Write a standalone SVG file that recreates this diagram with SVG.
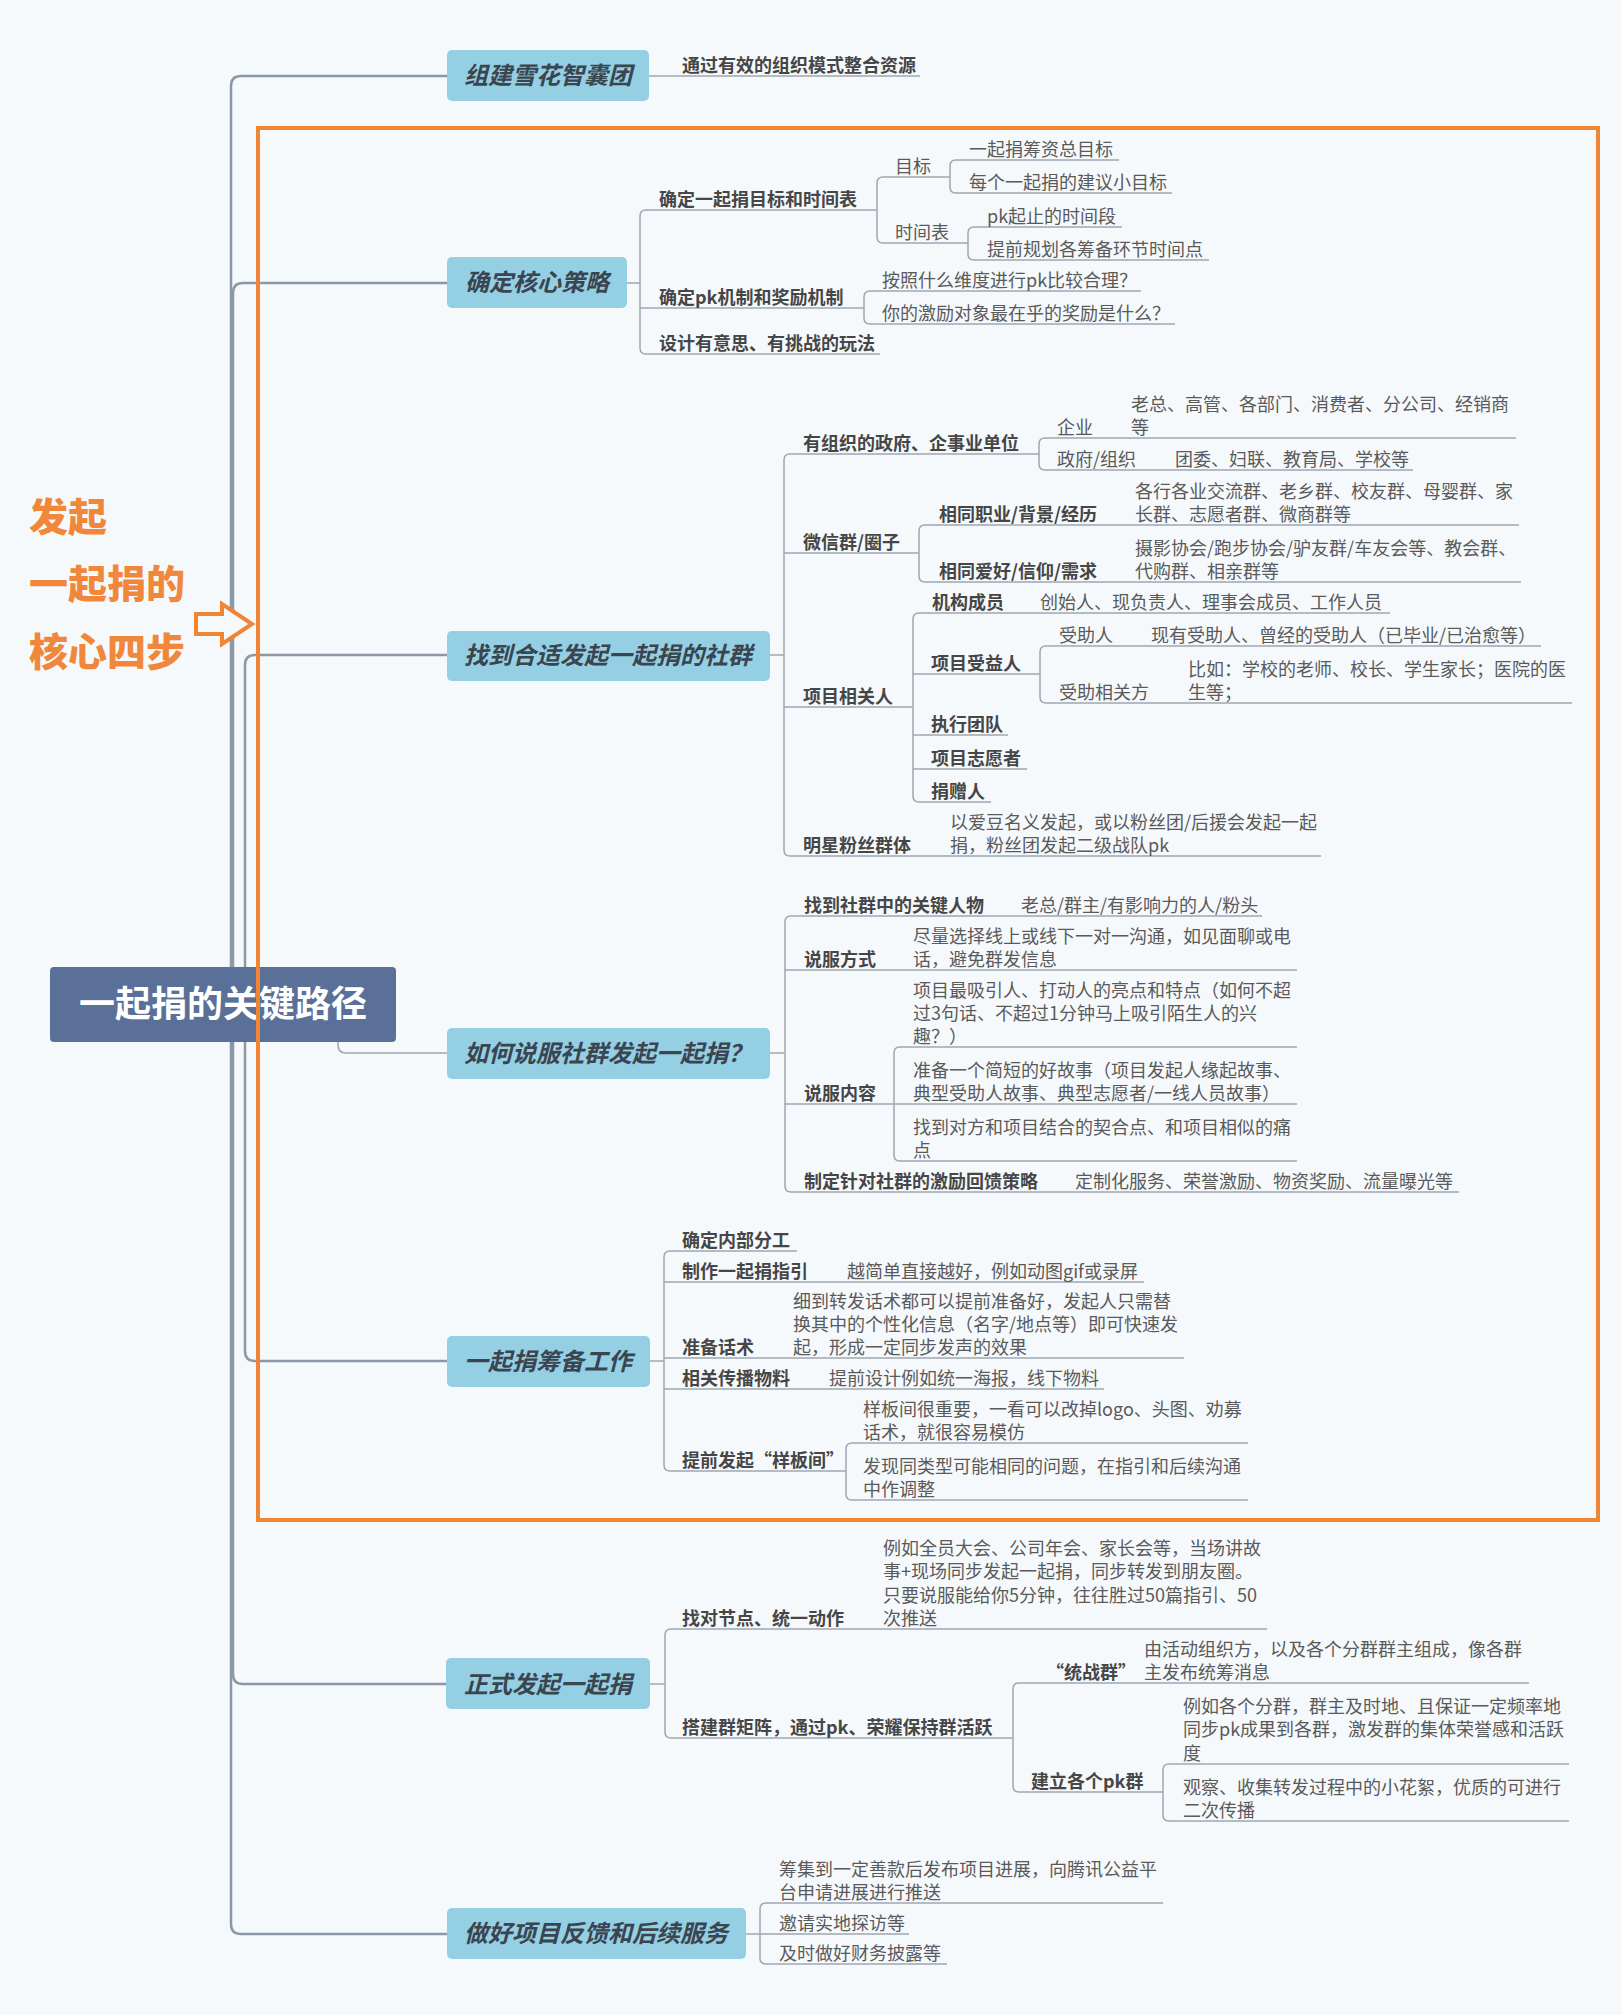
<svg xmlns="http://www.w3.org/2000/svg" width="1622" height="2015" viewBox="0 0 1622 2015">
<style>
.c{fill:none;stroke:#9ea7b1;stroke-width:1.5}
.t{fill:none;stroke:#8d98a7;stroke-width:2.5}
.b{font-family:"Noto Sans CJK SC","Noto Sans",sans-serif;font-size:18px;font-weight:bold;fill:#464646}
.n{font-family:"Noto Sans CJK SC","Noto Sans",sans-serif;font-size:18px;fill:#5a5a5a}
.h{font-family:"Noto Sans CJK SC","Noto Sans",sans-serif;font-size:24px;font-weight:bold;font-style:italic;fill:#3a4550;text-anchor:middle}
.nd{fill:#94cfe4}
.o{font-family:"Noto Sans CJK SC","Noto Sans",sans-serif;font-size:39px;font-weight:900;fill:#f0873a}
</style>
<rect x="0" y="0" width="1622" height="2015" fill="#f5f9fc"/>

<g id="connectors">
<!-- trunk -->
<path class="t" d="M231,1004 V86 Q231,76 241,76 H447"/>
<path class="t" d="M233,1004 V293 Q233,283 243,283 H447"/>
<path class="t" d="M245,1004 V665 Q245,655 255,655 H447"/>
<path class="c" d="M338,1035 V1045 Q338,1053 346,1053 H447"/>
<path class="t" d="M245,1004 V1351 Q245,1361 255,1361 H447"/>
<path class="t" d="M233,1004 V1674 Q233,1684 243,1684 H446"/>
<path class="t" d="M231,1004 V1924 Q231,1934 241,1934 H447"/>

<!-- 组建雪花智囊团 -->
<path class="c" d="M649,76 H920"/>

<!-- 确定核心策略 -->
<path class="c" d="M627,283 H640"/>
<path class="c" d="M877,210 H646 Q640,210 640,216 V348 Q640,354 646,354 H880"/>
<path class="c" d="M640,308 H864"/>
<path class="c" d="M950,177 H883 Q877,177 877,183 V237 Q877,243 883,243 H968"/>
<path class="c" d="M1119,160 H956 Q950,160 950,166 V187 Q950,193 956,193 H1172"/>
<path class="c" d="M1122,227 H974 Q968,227 968,233 V254 Q968,260 974,260 H1209"/>
<path class="c" d="M1141,291 H870 Q864,291 864,297 V318 Q864,324 870,324 H1175"/>

<!-- 找到合适发起一起捐的社群 -->
<path class="c" d="M770,655 H784"/>
<path class="c" d="M1039,454 H790 Q784,454 784,460 V850 Q784,856 790,856 H1321"/>
<path class="c" d="M784,553 H919"/>
<path class="c" d="M784,707 H913"/>
<path class="c" d="M1516,438 H1045 Q1039,438 1039,444 V464 Q1039,470 1045,470 H1413"/>
<path class="c" d="M1519,525 H925 Q919,525 919,531 V576 Q919,582 925,582 H1521"/>
<path class="c" d="M1390,613 H919 Q913,613 913,619 V796 Q913,802 919,802 H991"/>
<path class="c" d="M913,674 H1040"/>
<path class="c" d="M913,735 H1008"/>
<path class="c" d="M913,769 H1027"/>
<path class="c" d="M1541,646 H1046 Q1040,646 1040,652 V697 Q1040,703 1046,703 H1572"/>

<!-- 如何说服 -->
<path class="c" d="M770,1053 H785"/>
<path class="c" d="M1262,916 H791 Q785,916 785,922 V1186 Q785,1192 791,1192 H1459"/>
<path class="c" d="M785,970 H1297"/>
<path class="c" d="M785,1104 H1297"/>
<path class="c" d="M1297,1047 H900 Q894,1047 894,1053 V1155 Q894,1161 900,1161 H1297"/>

<!-- 一起捐筹备工作 -->
<path class="c" d="M650,1361 H664"/>
<path class="c" d="M797,1251 H670 Q664,1251 664,1257 V1465 Q664,1471 670,1471 H846"/>
<path class="c" d="M664,1282 H1144"/>
<path class="c" d="M664,1358 H1184"/>
<path class="c" d="M664,1389 H1104"/>
<path class="c" d="M1248,1443 H852 Q846,1443 846,1449 V1494 Q846,1500 852,1500 H1248"/>

<!-- 正式发起一起捐 -->
<path class="c" d="M650,1684 H665"/>
<path class="c" d="M1267,1629 H671 Q665,1629 665,1635 V1732 Q665,1738 671,1738 H1013"/>
<path class="c" d="M1529,1683 H1019 Q1013,1683 1013,1689 V1786 Q1013,1792 1019,1792 H1163"/>
<path class="c" d="M1569,1764 H1169 Q1163,1764 1163,1770 V1815 Q1163,1821 1169,1821 H1569"/>

<!-- 做好项目反馈和后续服务 -->
<path class="c" d="M746,1934 H760"/>
<path class="c" d="M1163,1903 H766 Q760,1903 760,1909 V1958 Q760,1964 766,1964 H947"/>
<path class="c" d="M760,1934 H909"/>
</g>

<g id="root">
<rect x="50" y="967" width="346" height="75" rx="4" fill="#5a7098"/>
<text x="223" y="1017" text-anchor="middle" font-family="Noto Sans CJK SC, sans-serif" font-size="36" font-weight="bold" fill="#ffffff">一起捐的关键路径</text>
</g>

<g id="n1">
<rect class="nd" x="447" y="50" width="202" height="51" rx="5"/>
<text class="h" x="548" y="84">组建雪花智囊团</text>
<text class="b" x="682" y="72">通过有效的组织模式整合资源</text>
</g>

<g id="n2">
<rect class="nd" x="447" y="257" width="180" height="51" rx="5"/>
<text class="h" x="537" y="291">确定核心策略</text>
<text class="b" x="659" y="206">确定一起捐目标和时间表</text>
<text class="b" x="659" y="304">确定pk机制和奖励机制</text>
<text class="b" x="659" y="350">设计有意思、有挑战的玩法</text>
<text class="n" x="895" y="173">目标</text>
<text class="n" x="895" y="239">时间表</text>
<text class="n" x="969" y="156">一起捐筹资总目标</text>
<text class="n" x="969" y="189">每个一起捐的建议小目标</text>
<text class="n" x="987" y="223">pk起止的时间段</text>
<text class="n" x="987" y="256">提前规划各筹备环节时间点</text>
<text class="n" x="882" y="287">按照什么维度进行pk比较合理？</text>
<text class="n" x="882" y="320">你的激励对象最在乎的奖励是什么？</text>
</g>

<g id="n3">
<rect class="nd" x="447" y="631" width="323" height="50" rx="5"/>
<text class="h" x="608" y="664">找到合适发起一起捐的社群</text>
<text class="b" x="803" y="450">有组织的政府、企事业单位</text>
<text class="n" x="1057" y="434">企业</text>
<text class="n" x="1131"><tspan x="1131" y="411">老总、高管、各部门、消费者、分公司、经销商</tspan><tspan x="1131" y="434">等</tspan></text>
<text class="n" x="1057" y="466">政府/组织</text>
<text class="n" x="1175" y="466">团委、妇联、教育局、学校等</text>
<text class="b" x="803" y="549">微信群/圈子</text>
<text class="b" x="939" y="521">相同职业/背景/经历</text>
<text class="n"><tspan x="1135" y="498">各行各业交流群、老乡群、校友群、母婴群、家</tspan><tspan x="1135" y="521">长群、志愿者群、微商群等</tspan></text>
<text class="b" x="939" y="578">相同爱好/信仰/需求</text>
<text class="n"><tspan x="1135" y="555">摄影协会/跑步协会/驴友群/车友会等、教会群、</tspan><tspan x="1135" y="578">代购群、相亲群等</tspan></text>
<text class="b" x="803" y="703">项目相关人</text>
<text class="b" x="932" y="609">机构成员</text>
<text class="n" x="1040" y="609">创始人、现负责人、理事会成员、工作人员</text>
<text class="b" x="931" y="670">项目受益人</text>
<text class="n" x="1059" y="642">受助人</text>
<text class="n" x="1151" y="642">现有受助人、曾经的受助人（已毕业/已治愈等）</text>
<text class="n" x="1059" y="699">受助相关方</text>
<text class="n"><tspan x="1188" y="676">比如：学校的老师、校长、学生家长；医院的医</tspan><tspan x="1188" y="699">生等；</tspan></text>
<text class="b" x="931" y="731">执行团队</text>
<text class="b" x="931" y="765">项目志愿者</text>
<text class="b" x="931" y="798">捐赠人</text>
<text class="b" x="803" y="852">明星粉丝群体</text>
<text class="n"><tspan x="950" y="829">以爱豆名义发起，或以粉丝团/后援会发起一起</tspan><tspan x="950" y="852">捐，粉丝团发起二级战队pk</tspan></text>
</g>

<g id="n4">
<rect class="nd" x="447" y="1028" width="323" height="51" rx="5"/>
<text class="h" x="608" y="1062">如何说服社群发起一起捐？</text>
<text class="b" x="804" y="912">找到社群中的关键人物</text>
<text class="n" x="1021" y="912">老总/群主/有影响力的人/粉头</text>
<text class="b" x="804" y="966">说服方式</text>
<text class="n"><tspan x="913" y="943">尽量选择线上或线下一对一沟通，如见面聊或电</tspan><tspan x="913" y="966">话，避免群发信息</tspan></text>
<text class="b" x="804" y="1100">说服内容</text>
<text class="n"><tspan x="913" y="997">项目最吸引人、打动人的亮点和特点（如何不超</tspan><tspan x="913" y="1020">过3句话、不超过1分钟马上吸引陌生人的兴</tspan><tspan x="913" y="1043">趣？）</tspan></text>
<text class="n"><tspan x="913" y="1077">准备一个简短的好故事（项目发起人缘起故事、</tspan><tspan x="913" y="1100">典型受助人故事、典型志愿者/一线人员故事）</tspan></text>
<text class="n"><tspan x="913" y="1134">找到对方和项目结合的契合点、和项目相似的痛</tspan><tspan x="913" y="1157">点</tspan></text>
<text class="b" x="804" y="1188">制定针对社群的激励回馈策略</text>
<text class="n" x="1075" y="1188">定制化服务、荣誉激励、物资奖励、流量曝光等</text>
</g>

<g id="n5">
<rect class="nd" x="447" y="1336" width="203" height="51" rx="5"/>
<text class="h" x="548" y="1370">一起捐筹备工作</text>
<text class="b" x="682" y="1247">确定内部分工</text>
<text class="b" x="682" y="1278">制作一起捐指引</text>
<text class="n" x="847" y="1278">越简单直接越好，例如动图gif或录屏</text>
<text class="b" x="682" y="1354">准备话术</text>
<text class="n"><tspan x="793" y="1308">细到转发话术都可以提前准备好，发起人只需替</tspan><tspan x="793" y="1331">换其中的个性化信息（名字/地点等）即可快速发</tspan><tspan x="793" y="1354">起，形成一定同步发声的效果</tspan></text>
<text class="b" x="682" y="1385">相关传播物料</text>
<text class="n" x="829" y="1385">提前设计例如统一海报，线下物料</text>
<text class="b" x="682" y="1467">提前发起“样板间”</text>
<text class="n"><tspan x="863" y="1416">样板间很重要，一看可以改掉logo、头图、劝募</tspan><tspan x="863" y="1439">话术，就很容易模仿</tspan></text>
<text class="n"><tspan x="863" y="1473">发现同类型可能相同的问题，在指引和后续沟通</tspan><tspan x="863" y="1496">中作调整</tspan></text>
</g>

<g id="n6">
<rect class="nd" x="446" y="1658" width="204" height="51" rx="5"/>
<text class="h" x="548" y="1693">正式发起一起捐</text>
<text class="b" x="682" y="1625">找对节点、统一动作</text>
<text class="n"><tspan x="883" y="1555">例如全员大会、公司年会、家长会等，当场讲故</tspan><tspan x="883" y="1578">事+现场同步发起一起捐，同步转发到朋友圈。</tspan><tspan x="883" y="1602">只要说服能给你5分钟，往往胜过50篇指引、50</tspan><tspan x="883" y="1625">次推送</tspan></text>
<text class="b" x="682" y="1734">搭建群矩阵，通过pk、荣耀保持群活跃</text>
<text class="b" x="1046" y="1679">“统战群”</text>
<text class="n"><tspan x="1144" y="1656">由活动组织方，以及各个分群群主组成，像各群</tspan><tspan x="1144" y="1679">主发布统筹消息</tspan></text>
<text class="b" x="1031" y="1788">建立各个pk群</text>
<text class="n"><tspan x="1183" y="1713">例如各个分群，群主及时地、且保证一定频率地</tspan><tspan x="1183" y="1736">同步pk成果到各群，激发群的集体荣誉感和活跃</tspan><tspan x="1183" y="1760">度</tspan></text>
<text class="n"><tspan x="1183" y="1794">观察、收集转发过程中的小花絮，优质的可进行</tspan><tspan x="1183" y="1817">二次传播</tspan></text>
</g>

<g id="n7">
<rect class="nd" x="447" y="1908" width="299" height="51" rx="5"/>
<text class="h" x="596" y="1942">做好项目反馈和后续服务</text>
<text class="n"><tspan x="779" y="1876">筹集到一定善款后发布项目进展，向腾讯公益平</tspan><tspan x="779" y="1899">台申请进展进行推送</tspan></text>
<text class="n" x="779" y="1930">邀请实地探访等</text>
<text class="n" x="779" y="1960">及时做好财务披露等</text>
</g>

<g id="highlight">
<rect x="258" y="128" width="1340" height="1392" fill="none" stroke="#ef8535" stroke-width="4"/>
<text class="o" x="29" y="531">发起</text>
<text class="o" x="29" y="598">一起捐的</text>
<text class="o" x="29" y="666">核心四步</text>
<polygon points="196,614 222,614 222,604 252,624 222,644 222,634 196,634" fill="#f5f9fc" stroke="#ef8535" stroke-width="4" stroke-linejoin="miter"/>
</g>
</svg>
